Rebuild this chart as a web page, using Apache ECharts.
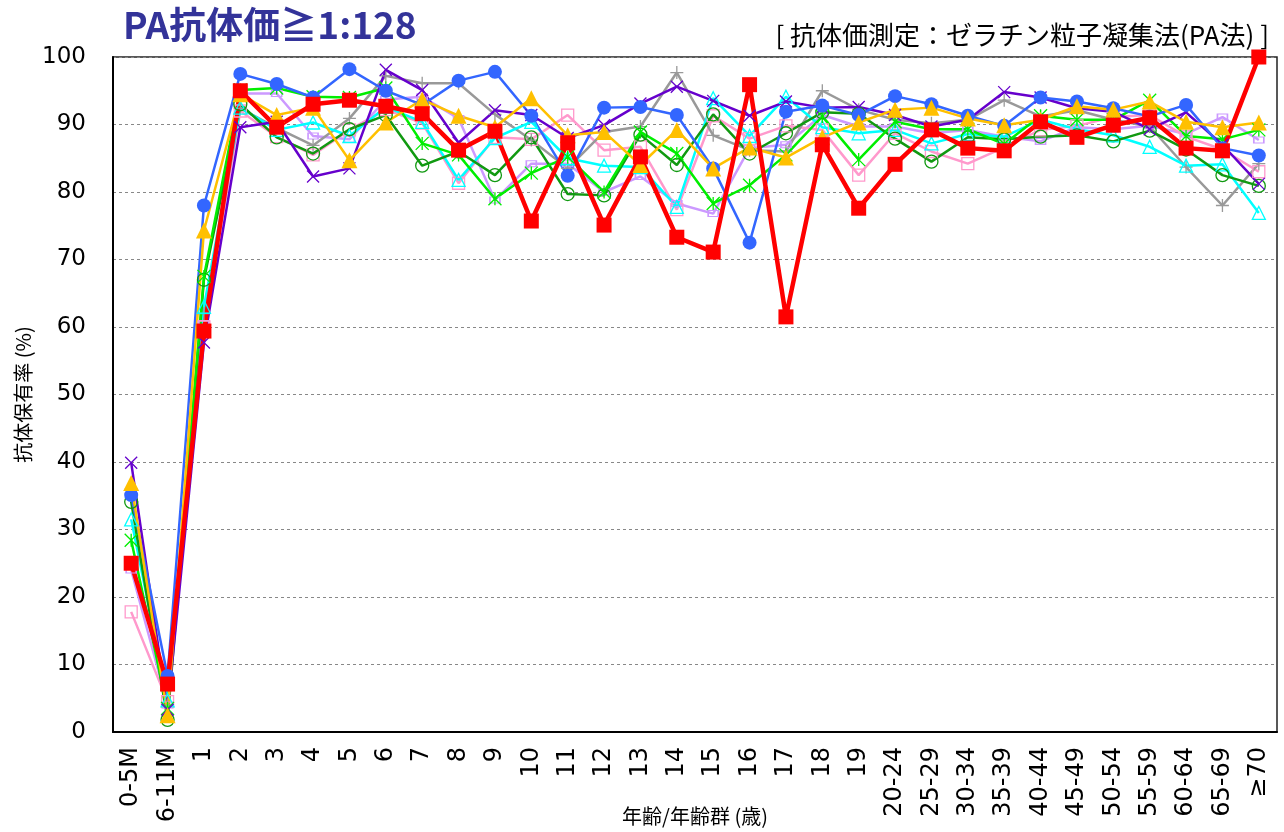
<!DOCTYPE html>
<html>
<head>
<meta charset="utf-8">
<script src="https://cdn.jsdelivr.net/npm/echarts@6/dist/echarts.min.js"></script>
<style>
html,body{margin:0;padding:0;background:#fff;}
#chart{width:1284px;height:832px;}
</style>
</head>
<body>
<div id="chart"></div>
<script>
const categories = ['0-5M','6-11M','1','2','3','4','5','6','7','8','9','10','11','12','13','14','15','16','17','18','19','20-24','25-29','30-34','35-39','40-44','45-49','50-54','55-59','60-64','65-69','≥70'];
const yTicks = [0,10,20,30,40,50,60,70,80,90,100];

const lavenderVals = [24.0, 4.0, 60.5, 94.6, 94.6, 88.3, 87.8, 93.7, 94.1, 90.9, 78.8, 84.2, 84.2, 80.0, 82.3, 78.3, 76.8, 86.5, 87.0, 91.4, 89.7, 89.7, 88.7, 89.2, 88.2, 87.5, 89.6, 89.3, 89.8, 88.6, 91.1, 87.7];
const pinkVals = [17.8, 4.5, 60.0, 92.0, 88.2, 85.5, 89.2, 92.2, 90.2, 81.3, 88.1, 87.8, 91.4, 86.2, 86.7, 77.4, 91.3, 87.9, 89.8, 89.2, 82.5, 88.7, 86.0, 84.2, 86.6, 89.2, 89.8, 91.1, 91.4, 88.2, 86.3, 83.0];
const grayVals = [36.0, 4.0, 62.0, 92.4, 89.5, 86.9, 90.9, 97.2, 96.1, 96.1, 91.5, 87.7, 83.5, 88.9, 89.7, 97.7, 88.4, 86.2, 86.0, 95.0, 92.2, 90.7, 90.2, 90.7, 93.6, 91.2, 92.1, 90.7, 89.7, 83.7, 78.0, 84.2];
const cyanVals = [31.5, 4.7, 63.0, 92.5, 89.2, 90.3, 88.3, 92.6, 90.4, 81.8, 88.0, 90.4, 85.0, 83.9, 83.7, 77.8, 93.9, 88.3, 94.1, 89.6, 88.7, 89.2, 87.2, 88.6, 88.2, 90.7, 89.3, 88.4, 86.7, 83.9, 84.1, 76.9];
const darkGreenVals = [34.1, 1.8, 67.0, 93.0, 88.1, 85.7, 89.3, 91.4, 83.9, 86.0, 82.5, 88.1, 79.7, 79.5, 88.5, 84.0, 91.5, 85.7, 88.7, 91.8, 91.6, 87.9, 84.5, 88.1, 87.8, 88.2, 88.4, 87.5, 89.1, 86.3, 82.5, 80.9];
const greenVals = [28.4, 3.5, 67.5, 95.1, 95.4, 94.1, 94.0, 95.4, 87.2, 85.5, 79.0, 82.8, 85.2, 80.0, 88.9, 85.7, 78.3, 81.0, 85.5, 91.2, 84.8, 90.4, 89.3, 89.3, 87.1, 91.3, 90.7, 90.7, 93.6, 88.3, 87.8, 89.2];
const purpleVals = [39.9, 3.3, 57.7, 89.6, 90.4, 82.3, 83.5, 98.1, 95.1, 87.3, 92.1, 91.4, 88.0, 89.9, 93.1, 95.6, 93.5, 91.3, 93.4, 92.5, 92.6, 91.4, 89.7, 90.7, 94.8, 94.0, 92.4, 91.9, 89.3, 91.8, 87.0, 81.2];
const blueVals = [35.1, 8.3, 78.0, 97.5, 96.0, 94.0, 98.2, 95.0, 92.9, 96.5, 97.8, 91.3, 82.4, 92.5, 92.6, 91.4, 83.5, 72.5, 91.9, 92.8, 91.4, 94.2, 93.0, 91.3, 89.8, 94.0, 93.4, 92.4, 91.2, 92.9, 86.5, 85.4];
const yellowVals = [36.9, 2.5, 74.3, 94.5, 91.4, 92.5, 84.7, 90.3, 93.7, 91.3, 89.6, 93.9, 88.4, 88.9, 84.0, 89.2, 83.5, 86.6, 85.1, 88.1, 90.3, 92.2, 92.5, 90.9, 89.9, 90.7, 92.7, 92.2, 93.4, 90.4, 89.6, 90.3];
const redVals = [25.0, 7.1, 59.4, 95.0, 89.6, 93.0, 93.6, 92.7, 91.6, 86.2, 89.0, 75.7, 87.3, 75.1, 85.2, 73.3, 71.1, 95.9, 61.5, 87.0, 77.6, 84.1, 89.2, 86.5, 86.1, 90.4, 88.1, 89.9, 91.0, 86.5, 86.1, 100];

const P_X = 'path://M0,0L10,10M10,0L0,10';
const P_PLUS = 'path://M5,0L5,10M0,5L10,5';
const P_AST = 'path://M0,0L10,10M10,0L0,10M5,0L5,10';

function mk(name, data, color, symbol, size, opts) {
  opts = opts || {};
  const hollow = opts.hollow;
  return {
    name: name, type: 'line', data: data,
    symbol: symbol, symbolSize: size,
    showAllSymbol: true,
    lineStyle: {color: color, width: opts.width || 2.5},
    itemStyle: hollow ? {color: 'none', borderColor: color, borderWidth: opts.bw || 1.3}
                      : {color: color, borderColor: color, borderWidth: 0},
    emphasis: {disabled: true},
    animation: false
  };
}

const chart = echarts.init(document.getElementById('chart'), null, {renderer: 'canvas'});
chart.setOption({
  animation: false,
  backgroundColor: '#fff',
  title: [
    {text: 'PA抗体価≧1:128', left: 118, top: 1,
     textStyle: {fontFamily: 'Noto Sans CJK JP', fontSize: 37, fontWeight: 'bold', color: '#333399'}},
    {text: '[ 抗体価測定：ゼラチン粒子凝集法(PA法) ]', right: 10, top: 17,
     textStyle: {fontFamily: 'Noto Sans CJK JP', fontSize: 26, fontWeight: 'normal', color: '#000'}}
  ],
  grid: {left: 113, right: 7, top: 57, bottom: 100, show: true, borderColor: '#222', borderWidth: 1.5,
         containLabel: false, outerBoundsMode: 'none'},
  xAxis: {
    type: 'category', data: categories, boundaryGap: true,
    axisLine: {lineStyle: {color: '#000', width: 2}},
    axisTick: {show: false},
    axisLabel: {rotate: 90, interval: 0, fontFamily: 'DejaVu Sans', fontSize: 24, color: '#000', margin: 15},
    name: '年齢/年齢群 (歳)', nameLocation: 'middle', nameGap: 74, nameMoveOverlap: false,
    nameTextStyle: {fontFamily: 'Noto Sans CJK JP', fontSize: 20, color: '#000'}
  },
  yAxis: {
    type: 'value', min: 0, max: 100, interval: 10,
    axisLine: {show: true, lineStyle: {color: '#000', width: 2}},
    axisTick: {show: false},
    axisLabel: {fontFamily: 'DejaVu Sans', fontSize: 23, color: '#000', margin: 27,
      formatter: function (v) { return yTicks.indexOf(v) >= 0 ? String(v) : ''; }},
    splitLine: {show: true, lineStyle: {color: '#888', type: [3, 3], width: 1}},
    name: '抗体保有率 (%)', nameLocation: 'middle', nameGap: 80, nameRotate: 90, nameMoveOverlap: false,
    nameTextStyle: {fontFamily: 'Noto Sans CJK JP', fontSize: 20, color: '#000'}
  },
  series: [
    mk('s-lavender', lavenderVals, '#cc99ff', 'rect', [10, 6], {hollow: true}),
    mk('s-pink', pinkVals, '#ff99cc', 'rect', 12, {hollow: true}),
    mk('s-gray', grayVals, '#999999', P_PLUS, 13, {hollow: true}),
    mk('s-cyan', cyanVals, '#00ffff', 'triangle', 13, {hollow: true}),
    mk('s-darkgreen', darkGreenVals, '#119911', 'circle', 13, {hollow: true}),
    mk('s-green', greenVals, '#00ee00', P_AST, 13, {hollow: true}),
    mk('s-purple', purpleVals, '#6600cc', P_X, 12, {hollow: true}),
    mk('s-blue', blueVals, '#3366ff', 'circle', 14),
    mk('s-yellow', yellowVals, '#ffc000', 'triangle', 16),
    mk('s-red', redVals, '#ff0000', 'rect', 15, {width: 4.5})
  ]
});
</script>
</body>
</html>
